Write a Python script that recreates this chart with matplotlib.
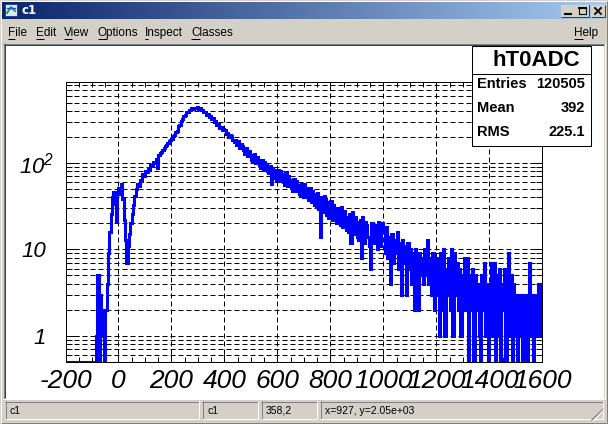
import numpy as np
import matplotlib
matplotlib.use('Agg')
import matplotlib.pyplot as plt
from matplotlib.patches import Rectangle
from matplotlib.ticker import FixedLocator, MultipleLocator, LogLocator, NullFormatter
from matplotlib.transforms import ScaledTranslation

plt.rcParams['mathtext.fontset'] = 'custom'
plt.rcParams['mathtext.rm'] = 'Liberation Sans:italic'
plt.rcParams['mathtext.it'] = 'Liberation Sans:italic'

# ---------------- data ----------------
bin_width = 5
x_min, x_max = -200, 1600
y_min, y_max = 0.5, 877

counts_m200 = [0, 0, 0, 0, 0, 0, 0, 0, 0, 0, 0, 0, 0, 0, 0, 0, 0, 0, 0, 0, 0, 0,
               0, 1, 5, 0, 3, 1, 2, 0, 2, 4, 9, 16, 26, 40, 46, 34, 21, 45]
counts_0 = [52, 44, 57, 38, 22, 13, 7, 11, 15, 20, 26, 33,
            42, 50, 58, 55, 64, 62, 74, 70, 82, 78, 88, 84, 96, 92, 104, 100,
            112, 88, 124, 130, 136, 142, 150, 156, 164, 170, 178, 186]
counts_200 = [192, 206, 210, 230, 238, 266, 278, 306, 320, 350, 358, 386, 396, 416,
              412, 430, 424, 440, 436, 446, 428, 436, 410, 412, 388, 390, 362, 368,
              344, 350, 326, 334, 302, 304, 276, 280, 256, 262, 240, 248]
counts_400 = [240, 218, 226, 198, 214, 206, 186, 174, 186, 160, 180, 148, 166, 156,
              140, 128, 148, 120, 138, 124, 110, 106, 126, 100, 118, 108, 96, 88,
              108, 84, 104, 94, 80, 76, 92, 58, 88, 68, 84, 64]
counts_600 = [84, 62, 82, 74, 60, 56, 78, 54, 70, 64, 52, 48, 66, 47, 62, 56, 44, 42,
              58, 40, 57, 52, 41, 37, 52, 35, 48, 44, 33, 31, 45, 29, 14, 41, 27, 42,
              38, 25, 23, 35]
counts_800 = [36, 22, 33, 30, 20, 21, 30, 19, 31, 18, 28, 24, 17, 16, 26, 12, 27, 15,
              24, 21, 14, 13, 22, 8, 24, 12, 21, 19, 14, 11, 6, 20, 12, 19, 17, 10,
              21, 11, 18, 20]
counts_1000 = [16, 9, 18, 8, 14, 4, 15, 7, 13, 9, 16, 6, 12, 3, 13, 7, 11, 3, 12, 6,
               10, 4, 9, 2, 10, 5, 2, 9, 5, 8, 4, 10, 5, 13, 4, 8, 3, 9, 2, 8]
counts_1200 = [3, 8, 1, 9, 2, 10, 1, 6, 3, 8, 2, 10, 1, 9, 3, 7, 2, 6, 1, 5,
               3, 8, 2, 8, 0, 5, 2, 6, 0, 5, 2, 4, 1, 0, 5, 2, 7, 1, 4, 0]
counts_1400 = [2, 7, 1, 7, 0, 5, 1, 6, 0, 4, 2, 6, 0, 3, 9, 1, 5, 0, 4, 1,
               3, 0, 3, 1, 3, 0, 2, 3, 0, 2, 7, 1, 3, 0, 3, 1, 2, 4, 1, 3]

hist_title = 'hT0ADC'
stat_labels = ['Entries', 'Mean', 'RMS']
stat_values = ['120505', '392', '225.1']

x_ticks = [-200, 0, 200, 400, 600, 800, 1000, 1200, 1400, 1600]
x_tick_labels = ['-200', '0', '200', '400', '600', '800', '1000', '1200', '1400', '1600']
y_ticks = [1, 10, 100]
y_tick_labels = ['1', '10', '$10^{2}$']

window_title = 'c1'
menu_items = ['File', 'Edit', 'View', 'Options', 'Inspect', 'Classes']
menu_x = [8, 36, 64, 98, 145, 191]
help_item = 'Help'
status_texts = ['c1', 'c1', '358,2', 'x=927, y=2.05e+03']

# ---------------- figure / chrome ----------------
W, H = 608, 424
GRAY = '#d4d0c8'
fig = plt.figure(figsize=(W / 100, H / 100), dpi=100)
fig.patch.set_facecolor(GRAY)

bg = fig.add_axes([0, 0, 1, 1])
bg.set_xlim(0, W)
bg.set_ylim(H, 0)
bg.axis('off')

def hline(a, x0, x1, y, c, lw=0.72):
    a.plot([x0, x1], [y, y], color=c, lw=lw, solid_capstyle='butt')

def vline(a, x, y0, y1, c, lw=0.72):
    a.plot([x, x], [y0, y1], color=c, lw=lw, solid_capstyle='butt')

# outer window edges
hline(bg, 0, W, 0.5, '#ffffff')
vline(bg, 0.5, 0, H, '#ffffff')
hline(bg, 0, W, H - 0.5, '#404040')
vline(bg, W - 0.5, 0, H, '#404040')
hline(bg, 1, W - 1, H - 1.5, '#808080')
vline(bg, W - 1.5, 1, H - 1, '#808080')

# title bar gradient
c0 = np.array([0x0a, 0x24, 0x6a]) / 255.0
c1 = np.array([0xa6, 0xca, 0xf0]) / 255.0
t = np.linspace(0, 1, 300)[None, :, None]
grad = c0[None, None, :] * (1 - t) + c1[None, None, :] * t
bg.imshow(grad, extent=[2, 606, 19, 2], aspect='auto', interpolation='bilinear', zorder=1)
bg.set_xlim(0, W)
bg.set_ylim(H, 0)
bg.text(21, 11, window_title, color='white', fontsize=8.5, fontweight='bold',
        family='DejaVu Sans', va='center', ha='left', zorder=3)

# icon
bg.add_patch(Rectangle((5, 4), 12, 12, fc='#dfe8f8', ec='#2040a0', lw=0.7, zorder=3))
bg.plot([7, 11, 15], [13, 7, 11], color='#10a040', lw=1.4, zorder=4)
bg.plot([7, 15], [8, 8], color='#2050d0', lw=1.0, zorder=4)

# title buttons
for (bx0, bx1) in [(561, 575), (575, 589), (591, 605)]:
    bg.add_patch(Rectangle((bx0, 5), bx1 - bx0, 12, fc=GRAY, ec='none', zorder=3))
    hline(bg, bx0, bx1, 5.5, '#ffffff')
    vline(bg, bx0 + 0.5, 5, 17, '#ffffff')
    hline(bg, bx0, bx1, 16.5, '#404040')
    vline(bg, bx1 - 0.5, 5, 17, '#404040')
bg.plot([565, 571], [14, 14], color='k', lw=1.5, zorder=5)
bg.add_patch(Rectangle((578.5, 7.5), 7, 6.5, fc='none', ec='k', lw=0.8, zorder=5))
bg.plot([578.5, 585.5], [8, 8], color='k', lw=1.4, zorder=5)
bg.plot([595, 601], [8, 14], color='k', lw=1.3, zorder=5)
bg.plot([595, 601], [14, 8], color='k', lw=1.3, zorder=5)

# menu
MENU_FS = 8.5
menu_texts = []
for name, mx in zip(menu_items + [help_item], menu_x + [574]):
    tt = bg.text(mx, 33, name, fontsize=MENU_FS, family='Liberation Sans', va='center',
                 ha='left', color='black', zorder=3)
    menu_texts.append((tt, name, mx))

# canvas (white area with sunken border)
bg.add_patch(Rectangle((4, 44), 600, 355, fc='white', ec='none', zorder=1))
hline(bg, 3, 604, 43.5, '#808080')
vline(bg, 3.5, 43, 399, '#808080')
hline(bg, 4, 604, 44.5, '#404040')
vline(bg, 4.5, 44, 398, '#404040')
hline(bg, 3, 605, 398.5, '#ffffff')
vline(bg, 604.5, 43, 399, '#ffffff')

# status bar
for i, (sx0, sx1) in enumerate([(5, 199), (202, 258), (261, 317), (320, 603)]):
    hline(bg, sx0, sx1, 401.5, '#808080')
    vline(bg, sx0 + 0.5, 401, 419, '#808080')
    hline(bg, sx0, sx1, 418.5, '#ffffff')
    vline(bg, sx1 - 0.5, 401, 419, '#ffffff')
    bg.text(sx0 + 5, 410.5, status_texts[i], fontsize=7.5, family='Liberation Sans',
            va='center', ha='left', color='black')
for k in range(3):
    o = 4 * k
    bg.plot([603 - o, 592], [409 + o, 420], color='#808080', lw=0.7)
for k in range(3):
    o = 4 * k
    bg.plot([604 - o, 593], [410 + o, 421], color='#ffffff', lw=0.5)

# ---------------- histogram pad ----------------
L, R, T, B = 65.5, 542.3, 81.7, 361.7
ax = fig.add_axes([L / W, 1 - B / H, (R - L) / W, (B - T) / H], zorder=2)
ax.patch.set_alpha(0)

counts = np.array(counts_m200 + counts_0 + counts_200 + counts_400 + counts_600 +
                  counts_800 + counts_1000 + counts_1200 + counts_1400, dtype=float)
edges = np.arange(x_min, x_max + bin_width, bin_width)
plot_vals = np.where(counts > 0, counts, y_min)

ax.stairs(plot_vals, edges, baseline=None, color='#0000ff', lw=2.2, zorder=3)

ax.set_xlim(x_min, x_max)
ax.set_yscale('log')
ax.set_ylim(y_min, y_max)

ax.xaxis.set_major_locator(FixedLocator(x_ticks))
ax.set_xticklabels(x_tick_labels)
ax.xaxis.set_minor_locator(MultipleLocator(50))
ax.yaxis.set_major_locator(FixedLocator(y_ticks))
ax.set_yticklabels(y_tick_labels)
ax.yaxis.set_minor_locator(LogLocator(base=10, subs=[2, 3, 4, 5, 6, 7, 8, 9], numticks=20))
ax.yaxis.set_minor_formatter(NullFormatter())

ax.set_axisbelow(True)
ax.grid(True, which='major', axis='x', color='k', lw=0.72, ls=(0, (5, 3)))
ax.grid(True, which='both', axis='y', color='k', lw=0.72, ls=(0, (5, 3)))

ax.tick_params(axis='x', which='major', direction='in', length=6, width=0.72,
               top=True, bottom=True, pad=5)
ax.tick_params(axis='x', which='minor', direction='in', length=3.5, width=0.72,
               top=True, bottom=True)
ax.tick_params(axis='y', which='major', direction='in', length=9, width=0.72,
               left=True, right=True, pad=14)
ax.tick_params(axis='y', which='minor', direction='in', length=4.5, width=0.72,
               left=True, right=True)
for s in ax.spines.values():
    s.set_color('k')
    s.set_linewidth(0.72)

for lab in ax.get_xticklabels():
    lab.set_fontfamily('Liberation Sans')
    lab.set_fontstyle('italic')
    lab.set_fontsize(19)
for lab in ax.get_yticklabels():
    lab.set_fontfamily('Liberation Sans')
    lab.set_fontstyle('italic')
    lab.set_fontsize(16)
ylabs = ax.get_yticklabels()
ylabs[2].set_transform(ylabs[2].get_transform() +
                       ScaledTranslation(8 / 100, 0, fig.dpi_scale_trans))

# ---------------- stats box ----------------
fg = fig.add_axes([0, 0, 1, 1], zorder=5)
fg.patch.set_alpha(0)
fg.set_xlim(0, W)
fg.set_ylim(H, 0)
fg.axis('off')
fg.add_patch(Rectangle((471.5, 45.5), 119, 100.5, fc='white', ec='black', lw=0.75))
hline(fg, 471.5, 590.5, 73.5, 'black', lw=0.75)
fg.text(536.5, 60, hist_title, fontsize=16, fontweight='bold', family='Liberation Sans',
        ha='center', va='center')
for lab, val, yy in zip(stat_labels, stat_values, [84, 108.5, 132]):
    fg.text(477, yy, lab, fontsize=10.5, fontweight='bold', family='Liberation Sans',
            ha='left', va='center')
    fg.text(585, yy, val, fontsize=10.5, fontweight='bold', family='Liberation Sans',
            ha='right', va='center')

# mnemonic underlines in the menu
fig.canvas.draw()
rend = fig.canvas.get_renderer()
inv = bg.transData.inverted()
for tt, name, mx in menu_texts:
    tmp = bg.text(mx, 33, name[0], fontsize=MENU_FS, family='Liberation Sans',
                  va='center', ha='left')
    bb = tmp.get_window_extent(renderer=rend)
    tmp.remove()
    (x0, y0), (x1, y1) = inv.transform([[bb.x0, bb.y0], [bb.x1, bb.y1]])
    hline(bg, x0 + 0.3, x1, 38.5, 'black')

fig.savefig('out.png', dpi=100, facecolor=fig.get_facecolor())
